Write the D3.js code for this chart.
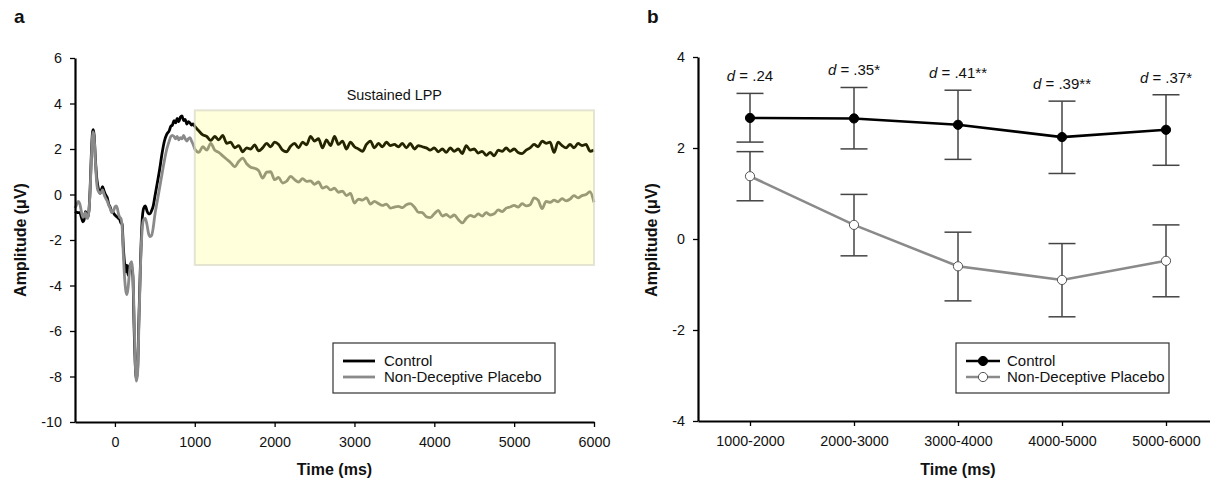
<!DOCTYPE html>
<html lang="en">
<head>
<meta charset="utf-8">
<title>Sustained LPP</title>
<script src="https://cdn.jsdelivr.net/npm/d3@7"></script>
<style>
  body { margin: 0; background: #fff; }
  svg text { font-family: "Liberation Sans", Arial, sans-serif; fill: #111; }
</style>
</head>
<body>
<script>
// ---- panel a: grand-average waveforms ----
var earlyTimes = [-500,-480,-460,-440,-420,-400,-385,-370,-355,-340,
  -325,-310,-295,-280,-270,-260,-245,-230,-215,-200,
  -185,-170,-155,-140,-125,-110,-95,-80,-60,-40,
  -20,0,15,30,45,60,75,90,105,120,
  135,150,165,180,195,210,225,240,255,270,
  285,300,320,340,360,380,400,420,440,460,
  480,500,530,560,590,620,650,680,700,720,
  740,760,780,800,820,840,860,880,900,920,
  940,960,980];

var controlEarly = [-0.75,-0.78,-0.80,-0.80,-1.00,-1.20,-1.10,-0.75,-0.85,-1.00,
  -0.70,0.30,1.80,2.75,2.85,2.60,1.60,0.80,0.40,0.15,
  0.05,0.20,0.35,0.20,0.05,-0.05,-0.15,-0.40,-0.55,-0.75,
  -0.80,-0.90,-0.95,-1.00,-1.05,-1.10,-1.25,-1.30,-2.30,-3.00,
  -3.40,-3.10,-3.55,-3.20,-3.05,-3.20,-3.60,-5.80,-7.50,-8.10,
  -7.60,-5.50,-3.00,-1.20,-0.60,-0.50,-0.70,-0.85,-0.85,-0.70,
  -0.50,-0.10,0.50,1.10,1.80,2.35,2.65,2.80,3.00,3.05,
  3.25,3.15,3.35,3.20,3.40,3.45,3.25,3.30,3.10,3.20,
  3.15,3.05,3.10];

var placeboEarly = [-0.60,-0.45,-0.30,-0.40,-0.75,-1.00,-0.95,-0.80,-1.00,-1.05,
  -0.70,0.20,1.60,2.60,2.75,2.50,1.50,0.60,0.20,0.10,
  0.05,0.10,0.20,0.05,-0.10,-0.20,-0.30,-0.45,-0.60,-0.80,
  -0.75,-0.55,-0.50,-0.60,-0.85,-1.00,-1.05,-1.40,-2.60,-3.60,
  -4.20,-4.40,-4.10,-3.50,-3.05,-2.95,-3.50,-5.30,-7.40,-8.20,
  -7.80,-5.80,-3.20,-1.60,-1.10,-1.05,-1.30,-1.70,-1.85,-1.80,
  -1.45,-0.90,-0.30,0.30,0.90,1.50,2.00,2.35,2.55,2.60,
  2.55,2.45,2.55,2.40,2.50,2.45,2.60,2.45,2.35,2.45,
  2.50,2.35,2.20];

// 1000 to 6000 ms, one sample every 50 ms
var lateStart = 1000, lateStep = 50;
var controlLate = [3.00,2.80,2.62,2.55,2.38,2.55,2.40,2.60,2.25,2.30,
  2.05,2.15,1.88,2.05,2.00,2.18,1.92,2.05,2.25,2.10,
  2.30,2.20,1.95,1.88,2.12,2.25,2.05,2.30,2.18,2.55,
  2.35,2.45,2.05,2.40,2.15,2.55,2.20,2.35,2.00,2.30,
  2.10,2.00,1.90,2.20,2.35,2.05,2.25,2.10,2.30,2.15,
  2.20,2.10,2.25,2.05,2.25,2.00,2.15,2.10,2.05,1.95,
  2.05,1.88,2.00,1.85,2.05,1.90,2.00,1.80,2.15,1.95,
  2.00,1.82,1.90,1.72,1.85,1.70,1.95,1.90,2.05,1.90,
  2.00,1.85,1.80,1.95,2.05,2.20,2.10,2.35,2.25,2.30,
  1.85,2.30,2.15,2.05,2.20,2.05,2.25,2.15,2.20,1.90,
  1.95];
var placeboLate = [2.00,1.85,2.10,1.95,2.25,1.95,1.85,1.70,1.55,1.40,
  1.22,1.45,1.60,1.35,1.20,1.15,1.05,0.72,0.98,1.00,
  0.65,0.75,0.50,0.58,0.80,0.65,0.55,0.70,0.58,0.60,
  0.45,0.55,0.28,0.35,0.20,0.28,0.10,0.15,-0.05,0.05,
  -0.38,-0.20,-0.25,-0.15,-0.42,-0.30,-0.40,-0.48,-0.42,-0.60,
  -0.55,-0.52,-0.58,-0.45,-0.40,-0.55,-0.78,-0.80,-0.98,-1.02,
  -0.85,-0.70,-0.95,-0.88,-1.00,-0.90,-1.10,-1.25,-1.05,-0.92,
  -0.98,-0.85,-0.95,-0.80,-0.90,-0.85,-0.68,-0.75,-0.60,-0.55,
  -0.48,-0.55,-0.40,-0.50,-0.45,-0.15,-0.25,-0.62,-0.30,-0.35,
  -0.25,-0.32,-0.18,-0.28,-0.20,-0.05,-0.15,-0.05,0.00,0.12,
  -0.35];

var lppWindow = [1000, 6000];
var lppAmp = [3.7, -3.1];
var ticksAX = [0, 1000, 2000, 3000, 4000, 5000, 6000];
var ticksAY = [-10, -8, -6, -4, -2, 0, 2, 4, 6];

// ---- panel b: mean amplitude per 1000 ms bin ----
var binLabels = ["1000-2000", "2000-3000", "3000-4000", "4000-5000", "5000-6000"];
var controlMean = [2.66, 2.65, 2.51, 2.24, 2.40];
var controlLo = [2.13, 1.98, 1.75, 1.44, 1.62];
var controlHi = [3.20, 3.33, 3.27, 3.03, 3.17];
var placeboMean = [1.38, 0.31, -0.60, -0.90, -0.48];
var placeboLo = [0.84, -0.37, -1.36, -1.71, -1.27];
var placeboHi = [1.92, 0.98, 0.15, -0.10, 0.31];
var effectD = [".24", ".35*", ".41**", ".39**", ".37*"];
var ticksBY = [-4, -2, 0, 2, 4];

var seriesNames = ["Control", "Non-Deceptive Placebo"];

var svg = d3.select("body").append("svg")
            .attr("width", 1210)
            .attr("height", 484);

// plain numbers with a hyphen minus, like the original figure
var plain = function(d) { return String(d); };

// little helper for the axis look
function styleAxis(g) {
  g.select(".domain").attr("stroke", "#000").attr("stroke-width", 2.2);
  g.selectAll(".tick line").attr("stroke", "#000").attr("stroke-width", 1.3);
  g.selectAll(".tick text").attr("font-size", 14.3).attr("fill", "#111");
}

// ================= panel a =================
var xA = d3.scaleLinear().domain([-500, 6000]).range([75, 594]);
var yA = d3.scaleLinear().domain([-10, 6]).range([422, 58]);

var lateTimes = controlLate.map(function(d, i) { return lateStart + i * lateStep; });
var allTimes = earlyTimes.concat(lateTimes);
var controlWave = controlEarly.concat(controlLate);
var placeboWave = placeboEarly.concat(placeboLate);

var wave = d3.line()
             .x(function(d, i) { return xA(allTimes[i]); })
             .y(function(d) { return yA(d); })
             .curve(d3.curveMonotoneX);

svg.append("path")
   .datum(controlWave)
   .attr("d", wave)
   .attr("fill", "none")
   .attr("stroke", "#000")
   .attr("stroke-width", 2.8)
   .attr("stroke-linejoin", "round");

svg.append("path")
   .datum(placeboWave)
   .attr("d", wave)
   .attr("fill", "none")
   .attr("stroke", "#8a8a8a")
   .attr("stroke-width", 2.8)
   .attr("stroke-linejoin", "round");

// translucent highlight of the sustained window (sits over the lines)
svg.append("rect")
   .attr("x", xA(lppWindow[0]))
   .attr("y", yA(lppAmp[0]))
   .attr("width", xA(lppWindow[1]) - xA(lppWindow[0]))
   .attr("height", yA(lppAmp[1]) - yA(lppAmp[0]))
   .attr("fill", "#ffff00")
   .attr("fill-opacity", 0.14)
   .attr("stroke", "#d9d9c8")
   .attr("stroke-width", 2)
   .attr("stroke-opacity", 0.7);

svg.append("text")
   .attr("x", (xA(lppWindow[0]) + xA(lppWindow[1])) / 2)
   .attr("y", yA(lppAmp[0]) - 10)
   .attr("text-anchor", "middle")
   .attr("font-size", 14.4)
   .text("Sustained LPP");

svg.append("g")
   .attr("transform", "translate(0," + yA(-10) + ")")
   .call(d3.axisBottom(xA).tickValues(ticksAX).tickFormat(plain)
           .tickSize(5).tickSizeOuter(0).tickPadding(10))
   .call(styleAxis);

svg.append("g")
   .attr("transform", "translate(" + xA(-500) + ",0)")
   .call(d3.axisLeft(yA).tickValues(ticksAY).tickFormat(plain)
           .tickSize(5).tickSizeOuter(0).tickPadding(8))
   .call(styleAxis);

// legend a
var legA = svg.append("g").attr("transform", "translate(333,343)");
legA.append("rect")
    .attr("width", 222).attr("height", 50)
    .attr("fill", "#fff").attr("stroke", "#333").attr("stroke-width", 1.2);
legA.selectAll("line.key")
    .data(seriesNames)
    .enter()
    .append("line")
    .attr("x1", 10).attr("x2", 42)
    .attr("y1", function(d, i) { return 18 + i * 16; })
    .attr("y2", function(d, i) { return 18 + i * 16; })
    .attr("stroke", function(d, i) { return i == 0 ? "#000" : "#8a8a8a"; })
    .attr("stroke-width", 2.8);
legA.selectAll("text")
    .data(seriesNames)
    .enter()
    .append("text")
    .attr("x", 51)
    .attr("y", function(d, i) { return 18 + i * 16; })
    .attr("dy", "0.35em")
    .attr("font-size", 15)
    .text(function(d) { return d; });

// ================= panel b =================
var xB = d3.scalePoint().domain(binLabels).range([698, 1218]).padding(0.5);
var yB = d3.scaleLinear().domain([-4, 4]).range([421, 57]);

var groups = [
  { mean: controlMean, lo: controlLo, hi: controlHi, line: "#000", fill: "#000", stroke: "#000" },
  { mean: placeboMean, lo: placeboLo, hi: placeboHi, line: "#8a8a8a", fill: "#fff", stroke: "#555" }
];

groups.forEach(function(g) {
  var bars = svg.append("g");
  binLabels.forEach(function(b, i) {
    var cx = xB(b);
    bars.append("line")
        .attr("x1", cx).attr("x2", cx)
        .attr("y1", yB(g.lo[i])).attr("y2", yB(g.hi[i]));
    bars.append("line")
        .attr("x1", cx - 13.5).attr("x2", cx + 13.5)
        .attr("y1", yB(g.lo[i])).attr("y2", yB(g.lo[i]));
    bars.append("line")
        .attr("x1", cx - 13.5).attr("x2", cx + 13.5)
        .attr("y1", yB(g.hi[i])).attr("y2", yB(g.hi[i]));
  });
  bars.selectAll("line").attr("stroke", "#444").attr("stroke-width", 1.5);
});

groups.forEach(function(g) {
  svg.append("path")
     .datum(g.mean)
     .attr("d", d3.line()
                  .x(function(d, i) { return xB(binLabels[i]); })
                  .y(function(d) { return yB(d); }))
     .attr("fill", "none")
     .attr("stroke", g.line)
     .attr("stroke-width", 2.6);
  svg.append("g")
     .selectAll("circle")
     .data(g.mean)
     .enter()
     .append("circle")
     .attr("cx", function(d, i) { return xB(binLabels[i]); })
     .attr("cy", function(d) { return yB(d); })
     .attr("r", 4.6)
     .attr("fill", g.fill)
     .attr("stroke", g.stroke)
     .attr("stroke-width", 1);
});

// effect sizes over each bin
var dText = svg.append("g")
               .selectAll("text")
               .data(effectD)
               .enter()
               .append("text")
               .attr("x", function(d, i) { return xB(binLabels[i]); })
               .attr("y", function(d, i) { return yB(controlHi[i]) - 12; })
               .attr("text-anchor", "middle")
               .attr("font-size", 15);
dText.append("tspan").attr("font-style", "italic").text("d");
dText.append("tspan").text(function(d) { return " = " + d; });

svg.append("g")
   .attr("transform", "translate(0," + yB(-4) + ")")
   .call(d3.axisBottom(xB).tickSize(5).tickSizeOuter(0).tickPadding(10))
   .call(styleAxis);

svg.append("g")
   .attr("transform", "translate(698,0)")
   .call(d3.axisLeft(yB).tickValues(ticksBY).tickFormat(plain)
           .tickSize(5).tickSizeOuter(0).tickPadding(8))
   .call(styleAxis);

// legend b
var legB = svg.append("g").attr("transform", "translate(956,343)");
legB.append("rect")
    .attr("width", 213).attr("height", 50)
    .attr("fill", "#fff").attr("stroke", "#333").attr("stroke-width", 1.2);
groups.forEach(function(g, i) {
  var ly = 18 + i * 16;
  legB.append("line")
      .attr("x1", 10).attr("x2", 44)
      .attr("y1", ly).attr("y2", ly)
      .attr("stroke", g.line).attr("stroke-width", 2.6);
  legB.append("circle")
      .attr("cx", 27).attr("cy", ly).attr("r", 4.6)
      .attr("fill", g.fill).attr("stroke", g.stroke).attr("stroke-width", 1);
  legB.append("text")
      .attr("x", 51).attr("y", ly).attr("dy", "0.35em")
      .attr("font-size", 15)
      .text(seriesNames[i]);
});

// ---- titles ----
svg.append("text").attr("x", 14).attr("y", 23)
   .attr("font-size", 19).attr("font-weight", "bold").text("a");
svg.append("text").attr("x", 647).attr("y", 23)
   .attr("font-size", 19).attr("font-weight", "bold").text("b");

svg.append("text")
   .attr("x", (xA(-500) + xA(6000)) / 2).attr("y", 475)
   .attr("text-anchor", "middle").attr("font-size", 16).attr("font-weight", "bold")
   .text("Time (ms)");
svg.append("text")
   .attr("x", xB(binLabels[2])).attr("y", 475)
   .attr("text-anchor", "middle").attr("font-size", 16).attr("font-weight", "bold")
   .text("Time (ms)");

svg.append("text")
   .attr("transform", "translate(26,240) rotate(-90)")
   .attr("text-anchor", "middle").attr("font-size", 16).attr("font-weight", "bold")
   .text("Amplitude (μV)");
svg.append("text")
   .attr("transform", "translate(657,240) rotate(-90)")
   .attr("text-anchor", "middle").attr("font-size", 16).attr("font-weight", "bold")
   .text("Amplitude (μV)");
</script>
</body>
</html>
